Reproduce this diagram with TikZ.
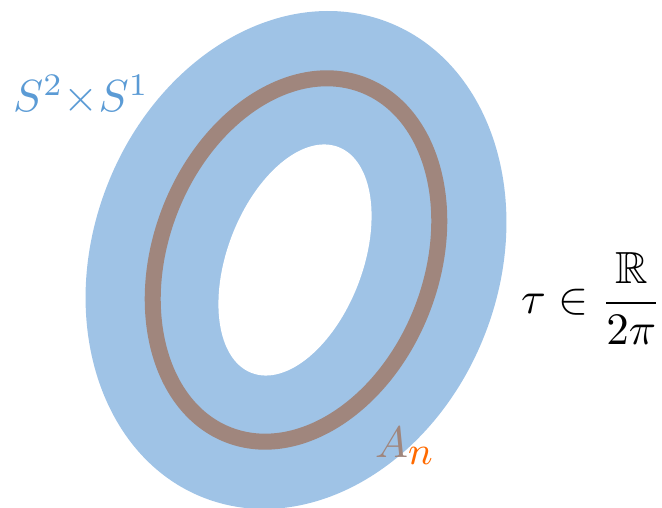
\documentclass[tikz,border=0pt]{standalone}
\usepackage{graphicx}
\usepackage{amsmath,amssymb}
\definecolor{ringblue}{HTML}{9FC3E6}
\definecolor{ringbrown}{HTML}{A0867D}
\definecolor{labelblue}{HTML}{5B9BD5}
\definecolor{labelorange}{HTML}{FF6A00}
\begin{document}
\begin{tikzpicture}[x=1pt,y=1pt,
  label text/.style={inner sep=0pt}]
\useasboundingbox (0,0) rectangle (662,508);
% outer body
\fill[ringblue, rotate around={-21:(296,248)}] (296,248) ellipse [x radius=203, y radius=255];
% brown loop A_n
\draw[ringbrown, line width=16pt, rotate around={-21:(296,248)}] (296,248) ellipse [x radius=135.5, y radius=187.5];
% hole
\fill[white, rotate around={-21:(295,248)}] (295,248) ellipse [x radius=67.6, y radius=121];
% labels
\node[label text, text=labelblue, anchor=base west] (s2s1) at (13,396) {\scalebox{4.5}{$S^2{\times}S^1$}};
\node[label text, anchor=base west] (tau) at (521,194) {\scalebox{4.5}{$\tau\in\dfrac{\mathbb{R}}{2\pi}$}};
\node[label text, anchor=base west] (an) at (375,50) {\scalebox{4.4}{$\color{ringbrown}A_{\mbox{\small$\color{labelorange}n$}}$}};
\end{tikzpicture}
\end{document}
